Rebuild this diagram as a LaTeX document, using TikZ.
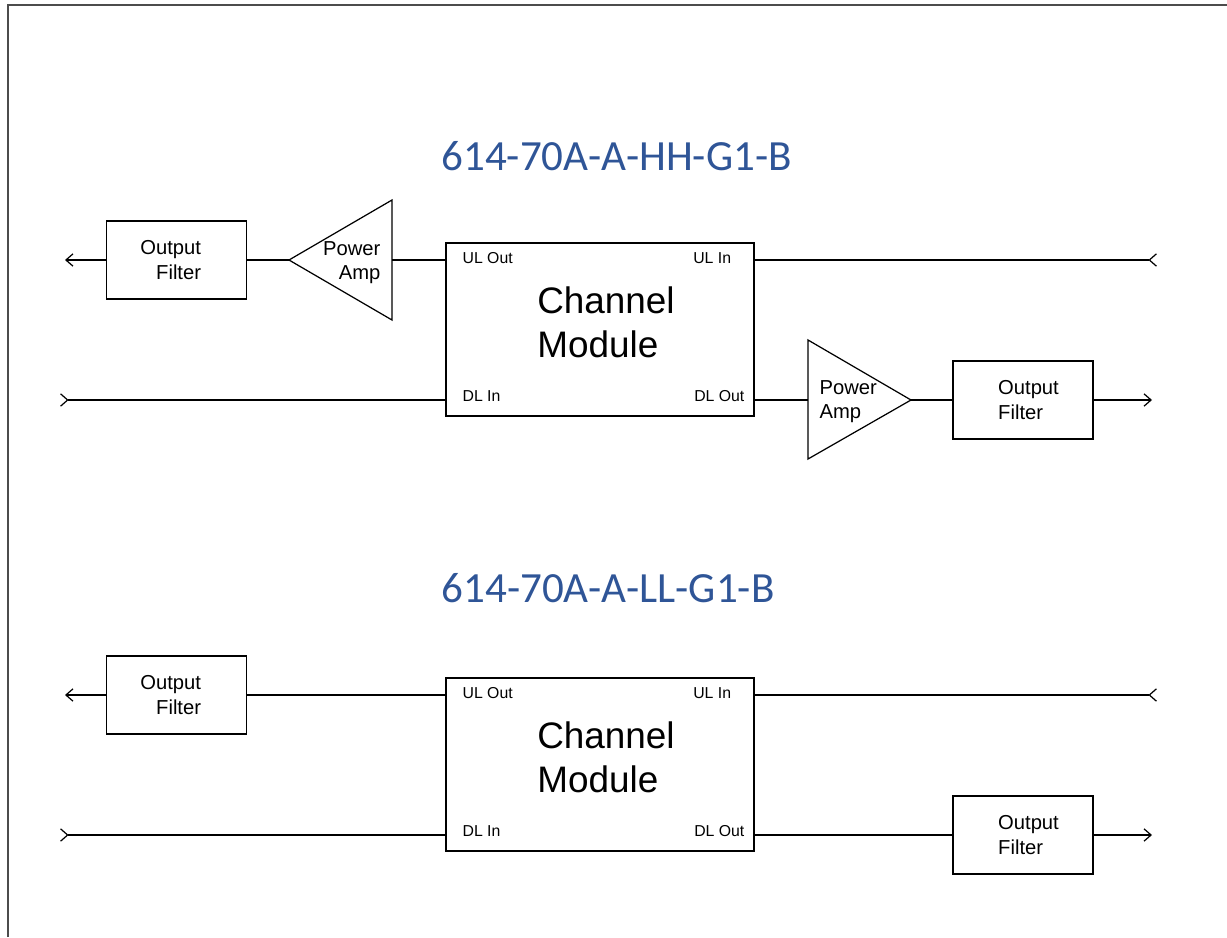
\documentclass[tikz,border=0pt]{standalone}
\usepackage{fontspec}
\setmainfont{Liberation Sans}
\newfontfamily\titlefont{Carlito}
\usetikzlibrary{arrows.meta,positioning}
\definecolor{titleblue}{RGB}{47,85,151}

\tikzset{
	module/.style={draw, minimum width=6.16cm, minimum height=3.46cm},
	filter/.style={draw, minimum width=2.8cm, minimum height=1.56cm, inner sep=0pt,
		font=\fontsize{11.5pt}{14pt}\selectfont},
	cmtext/.style={inner sep=0pt, align=left, font=\fontsize{21pt}{25pt}\selectfont},
	port/.style={inner sep=0pt, font=\fontsize{9pt}{11pt}\selectfont},
	amptext/.style={inner sep=0pt, font=\fontsize{11.5pt}{14pt}\selectfont},
	title/.style={inner sep=0pt, text=titleblue, font=\titlefont\fontsize{24.5pt}{28pt}\selectfont}
}

\begin{document}
\begin{tikzpicture}[x=0.02cm, y=-0.02cm, line width=0.7pt, >={Straight Barb[length=4pt, width=7pt]}]
\useasboundingbox (0,0) rectangle (1227,937);
% page edge
\draw[line width=1.1pt, black!70] (7.7,937) -- (7.7,5.3) -- (1227,5.3);

\node[title, anchor=base] (t1) at (616.5,170) {614-70A-A-HH-G1-B};
\node[title, anchor=base] (t2) at (608,602) {614-70A-A-LL-G1-B};

% common parts of both layouts
\foreach \n/\dy in {1/0,2/435}{
	\node[module] (cm\n) at (600,329.5+\dy) {};
	\node[cmtext] (cmt\n) at (606,322.5+\dy) {Channel\\Module};
	\node[port, anchor=west] (ulo\n) at (462,258.5+\dy) {UL Out};
	\node[port, anchor=east] (uli\n) at (731.7,258.5+\dy) {UL In};
	\node[port, anchor=west] (dli\n) at (462,396+\dy) {DL In};
	\node[port, anchor=east] (dlo\n) at (745,396+\dy) {DL Out};
	\node[filter, align=right] (ofl\n) at (176.5,260+\dy) {Output\hspace*{0.23cm}\\Filter\hspace*{0.23cm}};
	\node[filter, align=left] (ofr\n) at (1023,400+\dy) {\hspace*{0.22cm}Output\\\hspace*{0.22cm}Filter};
	\coordinate (ulout\n) at (65,260+\dy);
	\coordinate (ulin\n) at (1157,260+\dy);
	\coordinate (dlin\n) at (60,400+\dy);
	\coordinate (dlout\n) at (1152,400+\dy);
	\draw[->] (ofl\n.west) -- (ulout\n);
	\draw[>-] (ulin\n) -- (ulin\n -| cm\n.east);
	\draw[>-] (dlin\n) -- (dlin\n -| cm\n.west);
	\draw[->] (ofr\n.east) -- (dlout\n);
}

% power amps, top layout
\coordinate (pa1tip) at (289,260);
\coordinate (pa1base) at (392,260);
\draw (pa1tip) -- (392,200) -- (392,320) -- cycle;
\node[amptext, align=right, anchor=east] (pa1t) at (381,262.7) {Power\\Amp};
\coordinate (pa2tip) at (911,400);
\coordinate (pa2base) at (808,400);
\draw (pa2tip) -- (808,340) -- (808,459) -- cycle;
\node[amptext, align=left, anchor=west] (pa2t) at (819,401.8) {Power\\Amp};

\draw (ofl1.east) -- (pa1tip);
\draw (pa1base) -- (pa1base -| cm1.west);
\draw (pa2base -| cm1.east) -- (pa2base);
\draw (pa2tip) -- (ofr1.west);

% bottom layout, no amps
\draw (ofl2.east) -- (ofl2.east -| cm2.west);
\draw (ofr2.west -| cm2.east) -- (ofr2.west);
\end{tikzpicture}
\end{document}
